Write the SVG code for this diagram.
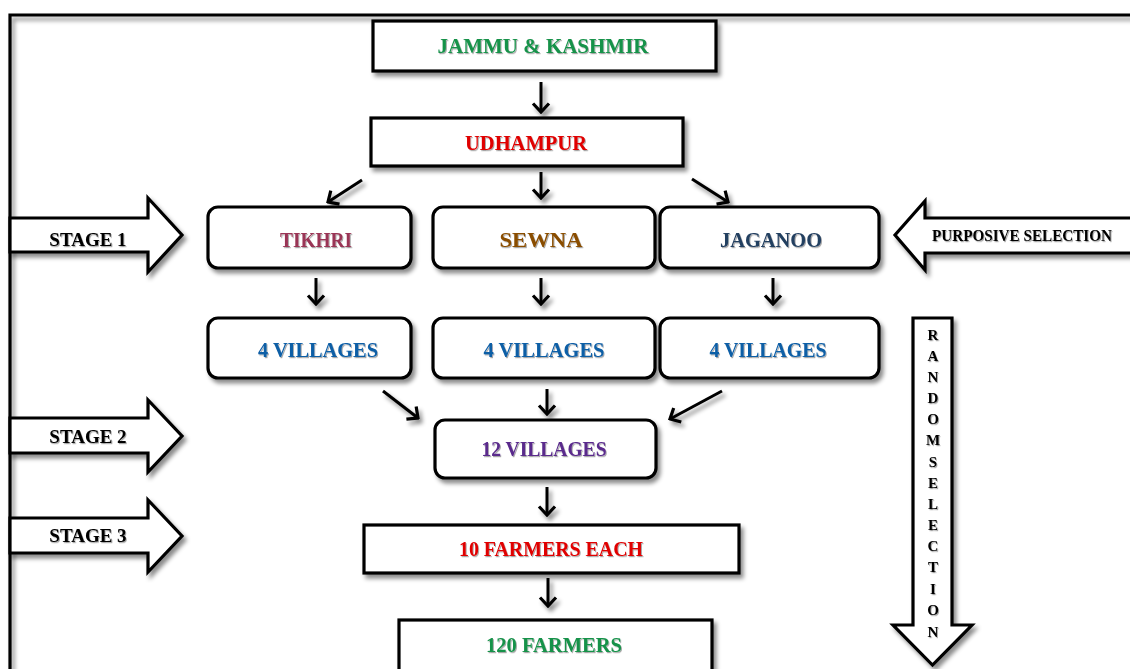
<svg xmlns="http://www.w3.org/2000/svg" width="1130" height="669" viewBox="0 0 1130 669">
<style>
.box{fill:#fff;stroke:#000;stroke-width:3.2;filter:url(#sh)}
.blk{fill:#fff;stroke:#000;stroke-width:3.2;stroke-linejoin:miter;filter:url(#sh)}
.lbl{font-family:"Liberation Serif","Times New Roman",serif;font-weight:bold;text-anchor:middle;filter:url(#tsh)}
.big{font-size:22px}
.stg{font-size:19px;fill:#000}
.conn line{stroke:#000;stroke-width:3;marker-end:url(#ah)}
</style>
<defs>
<filter id="sh" x="-10%" y="-10%" width="130%" height="140%">
<feDropShadow dx="3" dy="4" stdDeviation="2.2" flood-color="#000" flood-opacity="0.45"/>
</filter>
<filter id="shu" filterUnits="userSpaceOnUse" x="0" y="0" width="1130" height="669">
<feDropShadow dx="3" dy="4" stdDeviation="2.2" flood-color="#000" flood-opacity="0.45"/>
</filter>
<filter id="tsh" x="-5%" y="-20%" width="110%" height="150%">
<feDropShadow dx="1" dy="1.2" stdDeviation="0.6" flood-color="#000" flood-opacity="0.35"/>
</filter>
<marker id="ah" viewBox="0 0 12 20" refX="10" refY="10" markerWidth="12" markerHeight="20" markerUnits="userSpaceOnUse" orient="auto">
<path d="M1.5,2 L10,10 L1.5,18" fill="none" stroke="#000" stroke-width="3.2" stroke-linejoin="miter"/>
</marker>
</defs>
<rect width="1130" height="669" fill="#fff"/>
<g id="frame">
<path d="M10,672 V15 H1135" fill="none" stroke="#000" stroke-width="3.2" filter="url(#shu)"/>
</g>
<g class="conn" id="connectors" filter="url(#shu)">
<line x1="541" y1="82" x2="541" y2="112"/>
<line x1="362" y1="180" x2="328" y2="202"/>
<line x1="541" y1="172" x2="541" y2="198"/>
<line x1="692" y1="179" x2="728" y2="202"/>
<line x1="316" y1="278" x2="316" y2="304"/>
<line x1="541" y1="278" x2="541" y2="304"/>
<line x1="773" y1="278" x2="773" y2="304"/>
<line x1="383" y1="391" x2="418" y2="418"/>
<line x1="547" y1="389" x2="547" y2="414"/>
<line x1="722" y1="391" x2="670" y2="419"/>
<line x1="547" y1="487" x2="547" y2="515"/>
<line x1="548" y1="578" x2="548" y2="606"/>
</g>
<g id="stage1">
<polygon class="blk" points="10,218 148,218 148,198 182,235 148,272 148,252 10,252"/>
<text class="lbl stg" x="88" y="246">STAGE 1</text>
</g>
<g id="stage2">
<polygon class="blk" points="10,418 148,418 148,400 182,436 148,472 148,453 10,453"/>
<text class="lbl stg" x="88" y="443">STAGE 2</text>
</g>
<g id="stage3">
<polygon class="blk" points="10,518 148,518 148,500 182,536 148,572 148,553 10,553"/>
<text class="lbl stg" x="88" y="542">STAGE 3</text>
</g>
<g id="purposive">
<polygon class="blk" points="1140,218 925,218 925,201 895,235 925,270 925,253 1140,253"/>
<text class="lbl" x="1022" y="241" font-size="16" textLength="180" lengthAdjust="spacingAndGlyphs" fill="#000">PURPOSIVE SELECTION</text>
</g>
<g id="random">
<polygon class="blk" points="913,318 952,318 952,625 972,625 932.5,665 893,625 913,625"/>
<g class="lbl" font-size="15" fill="#000">
<text x="933" y="340">R</text>
<text x="933" y="361">A</text>
<text x="933" y="382">N</text>
<text x="933" y="403">D</text>
<text x="933" y="424">O</text>
<text x="933" y="445">M</text>
<text x="933" y="467">S</text>
<text x="933" y="488">E</text>
<text x="933" y="509">L</text>
<text x="933" y="530">E</text>
<text x="933" y="551">C</text>
<text x="933" y="572">T</text>
<text x="933" y="594">I</text>
<text x="933" y="615">O</text>
<text x="933" y="637">N</text>
</g>
</g>
<g id="jammu">
<rect class="box" x="373" y="21" width="343" height="50"/>
<text class="lbl big" x="543" y="53" fill="#16924a" textLength="211" lengthAdjust="spacingAndGlyphs">JAMMU &amp; KASHMIR</text>
</g>
<g id="udhampur">
<rect class="box" x="371" y="118" width="312" height="48"/>
<text class="lbl big" x="526" y="150" fill="#e00000" textLength="122" lengthAdjust="spacingAndGlyphs">UDHAMPUR</text>
</g>
<g id="tikhri">
<rect class="box" x="208" y="207" width="203" height="61" rx="10"/>
<text class="lbl big" x="316" y="247" fill="#9a3656" textLength="72" lengthAdjust="spacingAndGlyphs">TIKHRI</text>
</g>
<g id="sewna">
<rect class="box" x="433" y="207" width="222" height="61" rx="10"/>
<text class="lbl big" x="541" y="247" fill="#8a4e06" textLength="83" lengthAdjust="spacingAndGlyphs">SEWNA</text>
</g>
<g id="jaganoo">
<rect class="box" x="660" y="207" width="219" height="61" rx="10"/>
<text class="lbl big" x="771" y="247" fill="#243f60" textLength="102" lengthAdjust="spacingAndGlyphs">JAGANOO</text>
</g>
<g id="v1">
<rect class="box" x="208" y="318" width="203" height="60" rx="10"/>
<text class="lbl big" x="318" y="357" fill="#0d5ea6" textLength="120" lengthAdjust="spacingAndGlyphs">4 VILLAGES</text>
</g>
<g id="v2">
<rect class="box" x="433" y="318" width="222" height="60" rx="10"/>
<text class="lbl big" x="544" y="357" fill="#0d5ea6" textLength="121" lengthAdjust="spacingAndGlyphs">4 VILLAGES</text>
</g>
<g id="v3">
<rect class="box" x="660" y="318" width="219" height="60" rx="10"/>
<text class="lbl big" x="768" y="357" fill="#0d5ea6" textLength="117" lengthAdjust="spacingAndGlyphs">4 VILLAGES</text>
</g>
<g id="v12">
<rect class="box" x="435" y="420" width="221" height="58" rx="10"/>
<text class="lbl big" x="544" y="456" fill="#5a2b8c" textLength="125" lengthAdjust="spacingAndGlyphs">12 VILLAGES</text>
</g>
<g id="farmers10">
<rect class="box" x="364" y="525" width="375" height="48"/>
<text class="lbl big" x="551" y="556" fill="#e00000" textLength="184" lengthAdjust="spacingAndGlyphs">10 FARMERS EACH</text>
</g>
<g id="farmers120">
<rect class="box" x="399" y="620" width="313" height="60"/>
<text class="lbl big" x="554" y="652" fill="#16924a" textLength="136" lengthAdjust="spacingAndGlyphs">120 FARMERS</text>
</g>
</svg>
